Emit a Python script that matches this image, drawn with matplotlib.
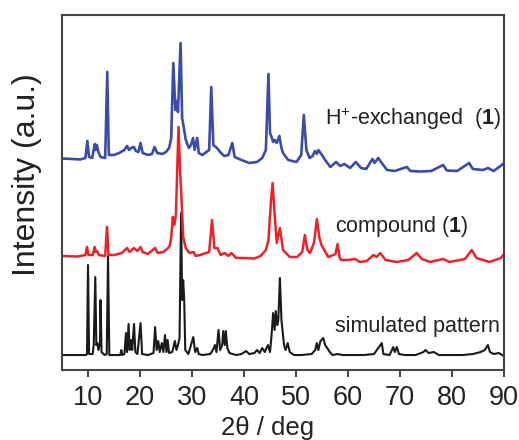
import matplotlib
matplotlib.use("Agg")
import matplotlib.pyplot as plt

plt.rcParams['font.family'] = ['Liberation Sans', 'DejaVu Sans']
plt.rcParams['mathtext.fontset'] = 'custom'
plt.rcParams['mathtext.rm'] = 'Liberation Sans'
plt.rcParams['mathtext.bf'] = 'Liberation Sans:bold'

# 2theta / intensity (a.u.), each trace relative to its own baseline
sim_x = [5.0, 9.6, 9.8, 10.0, 10.2, 10.9, 11.1, 11.4, 11.6, 11.8, 12.0, 12.3, 12.4, 12.6, 13.2, 13.6, 13.85, 14.1,
         16.2, 16.4, 16.6, 17.0, 17.3, 17.5, 17.8, 18.0, 18.3, 18.5, 18.85, 19.1, 19.5, 20.1, 20.4, 21.5, 22.6,
         22.9, 23.2, 23.5, 23.8, 24.2, 24.5, 24.8, 25.1, 25.3, 25.6, 26.2, 26.7, 27.0, 27.3, 27.6, 27.9, 28.1,
         28.3, 28.5, 28.7, 29.3, 30.25, 30.6, 31.0, 31.3, 32.0, 33.5, 34.0, 34.4, 34.7, 35.1, 35.4, 35.8, 36.0,
         36.3, 36.5, 36.8, 37.2, 38.5, 39.5, 40.4, 41.0, 42.0, 42.5, 43.0, 43.5, 44.0, 44.6, 45.0, 45.3, 45.6,
         45.9, 46.1, 46.4, 46.6, 46.9, 47.2, 47.4, 47.7, 48.0, 48.4, 48.8, 49.6, 51.0, 53.0, 53.7, 54.0, 54.3,
         54.7, 55.25, 55.6, 56.0, 56.5, 57.0, 58.0, 59.0, 61.0, 63.0, 65.0, 66.5, 66.8, 68.0, 68.7, 69.0, 69.4,
         69.8, 71.0, 73.0, 74.5, 74.9, 75.5, 76.5, 77.5, 80.0, 82.0, 84.0, 85.5, 86.3, 86.9, 87.3, 88.0, 89.0, 90.0]
sim_y = [0, 0, 1, 90, 1, 1, 10, 78, 10, 12, 5, 12, 55, 3, 0, 1, 99, 0,
         0, 5, 0, 1, 22, 3, 31, 5, 15, 5, 31, 3, 1, 32, 1, 0, 2,
         28, 5, 14, 3, 12, 3, 20, 3, 15, 2, 3, 14, 5, 10, 17, 142, 55,
         75, 55, 5, 1, 18, 3, 7, 1, 0, 1, 5, 10, 3, 25, 5, 10, 24,
         10, 24, 7, 2, 0, 1, 4, 1, 2, 5, 2, 7, 3, 10, 3, 20, 42,
         25, 44, 30, 35, 77, 35, 25, 10, 5, 12, 3, 0, 0, 1, 5, 12, 5,
         14, 17, 10, 7, 3, 0, 1, 0, 0, 0, 1, 12, 1, 0, 8, 3, 8,
         1, 0, 0, 3, 5, 2, 3, 0, 0, 0, 1, 3, 5, 10, 3, 1, 2, -1]

cmp_x = [5.0, 8.0, 9.5, 9.8, 10.1, 10.9, 11.3, 11.5, 11.7, 12.1, 13.3, 13.65, 13.95, 15.0, 16.5, 17.5, 18.0,
         18.8, 19.5, 20.1, 20.5, 21.5, 22.9, 23.4, 24.5, 25.2, 25.7, 26.0, 26.3, 26.6, 26.9, 27.4, 27.7, 27.9,
         28.3, 28.8, 29.5, 30.3, 30.7, 31.5, 33.3, 33.85, 34.3, 34.9, 35.5, 36.3, 37.0, 37.6, 38.5, 40.0, 42.0,
         43.2, 44.2, 44.7, 45.2, 45.5, 45.9, 46.3, 46.9, 47.5, 48.8, 50.2, 51.2, 51.7, 52.2, 52.7, 53.5, 54.0,
         54.5, 54.9, 56.2, 57.6, 58.0, 58.4, 58.7, 60.0, 61.35, 62.3, 63.6, 64.9, 65.5, 66.2, 67.2, 69.4, 71.6,
         73.2, 74.2, 75.8, 78.3, 79.5, 82.5, 83.8, 84.7, 87.2, 89.4, 90.0]
cmp_y = [2, 1.5, 3, 11, 3, 3, 11, 6, 7, 3, 2, 31, 3, 3, 5, 10, 6,
         10, 7, 11, 6, 4, 10, 5, 6, 9, 12, 20, 41, 33, 43, 131, 88, 68,
         21, 10, 5, 6, 2, 3, 6, 38, 10, 10, 3, 5, 2, 5, 0, 0, -0.5,
         2, 8, 18, 58, 75, 43, 15, 30, 8, 1, 1, 6, 23, 8, 5, 16, 39,
         20, 13, 1, 4, 14, 0, -2, -2, -1, -4, -3, 3, 1, 5, -2, -4, -2,
         5, -1, -4, -1, -4, -1, 8, 0, -4, 0, 4]

hex_x = [5.0, 7.0, 8.5, 9.5, 9.87, 10.2, 10.8, 11.3, 11.5, 11.7, 12.0, 12.4, 13.3, 13.7, 14.0, 15.0, 16.0,
         17.0, 17.5, 17.9, 18.3, 18.8, 19.2, 19.7, 20.1, 20.5, 21.5, 22.3, 22.8, 23.3, 24.3, 25.0, 25.6, 26.0,
         26.4, 26.8, 27.0, 27.3, 27.8, 28.1, 28.4, 28.8, 29.4, 29.8, 30.2, 30.5, 31.0, 31.3, 32.0, 33.3, 33.7,
         34.1, 34.8, 35.4, 36.2, 37.0, 37.75, 38.2, 39.5, 41.0, 42.5, 43.5, 44.2, 44.7, 45.0, 45.3, 45.6, 45.9,
         46.3, 46.8, 47.2, 47.5, 48.5, 50.1, 51.0, 51.5, 52.0, 52.6, 53.2, 53.65, 54.0, 54.3, 55.0, 55.6, 56.6,
         57.7, 58.5, 59.3, 60.4, 61.5, 62.5, 63.5, 64.7, 65.1, 65.8, 66.5, 67.5, 69.0, 71.3, 72.0, 74.0, 76.0,
         78.3, 79.0, 81.0, 83.3, 84.0, 86.0, 86.9, 88.0, 89.6, 90.0]
hex_y = [6.5, 6, 5.5, 7, 24, 8, 7, 21, 15, 20, 13, 8, 7, 93, 10, 10, 12,
         15, 19, 15, 17, 18, 14, 13, 22, 12, 10, 11, 18, 12, 11, 13, 17, 27,
         102, 55, 64, 53, 122, 47, 38, 25, 17, 20, 27, 15, 27, 12, 10, 15, 78,
         20, 17, 13, 9, 10, 22, 8, 5, 2, 3, 7, 15, 91, 32, 28, 23, 25,
         22, 29, 17, 12, 5, 3, 10, 50, 15, 7, 9, 14, 11, 15, 10, 5, -2,
         3, -1, 1, -3, 3, -3, -4, 6, 2, 7, 2, -5, -6, -2, -6, -6.5, -6,
         0, -5.5, -6, 2, -4, -5, -3, -6, 0, 2]

labels = ["simulated pattern", r"compound ($\mathbf{1}$)", r"H$^{+}$-exchanged  ($\mathbf{1}$)"]
offsets = [15, 112, 205]
colors = ["#1a1a1a", "#ee2028", "#3a4ca6"]
widths = [1.5, 1.8, 1.9]
xticks = [10, 20, 30, 40, 50, 60, 70, 80, 90]

fig = plt.figure(figsize=(5.19, 4.40), dpi=100)
ax = fig.add_axes([0.1195, 0.159, 0.8516, 0.807])

traces = [(sim_x, sim_y), (cmp_x, cmp_y), (hex_x, hex_y)]
for (xs, ys), off, c, w in zip(traces, offsets, colors, widths):
    ax.plot(xs, [v + off for v in ys], color=c, lw=w, solid_joinstyle='round')

ax.set_xlim(5, 90)
ax.set_ylim(0, 355)
ax.set_xticks(xticks)
ax.set_yticks([])
ax.tick_params(axis='x', direction='out', length=5, width=1.2, labelsize=19.5, pad=6, colors='#222222')
for s in ax.spines.values():
    s.set_color('#444444')
    s.set_linewidth(1.5)

fs = 15.5
ax.text(0.594, 0.707, labels[2], transform=ax.transAxes, fontsize=fs, va='center', ha='left', color='#222222')
ax.text(0.617, 0.405, labels[1], transform=ax.transAxes, fontsize=fs, va='center', ha='left', color='#222222')
ax.text(0.617, 0.124, labels[0], transform=ax.transAxes, fontsize=fs, va='center', ha='left', color='#222222')

ax.set_xlabel("2\u03b8 / deg", fontsize=18.5, color='#222222')
ax.xaxis.set_label_coords(0.466, -0.13)
ax.set_ylabel("Intensity (a.u.)", fontsize=23, color='#222222')
ax.yaxis.set_label_coords(-0.045, 0.55)

fig.savefig("out.png", dpi=100)
